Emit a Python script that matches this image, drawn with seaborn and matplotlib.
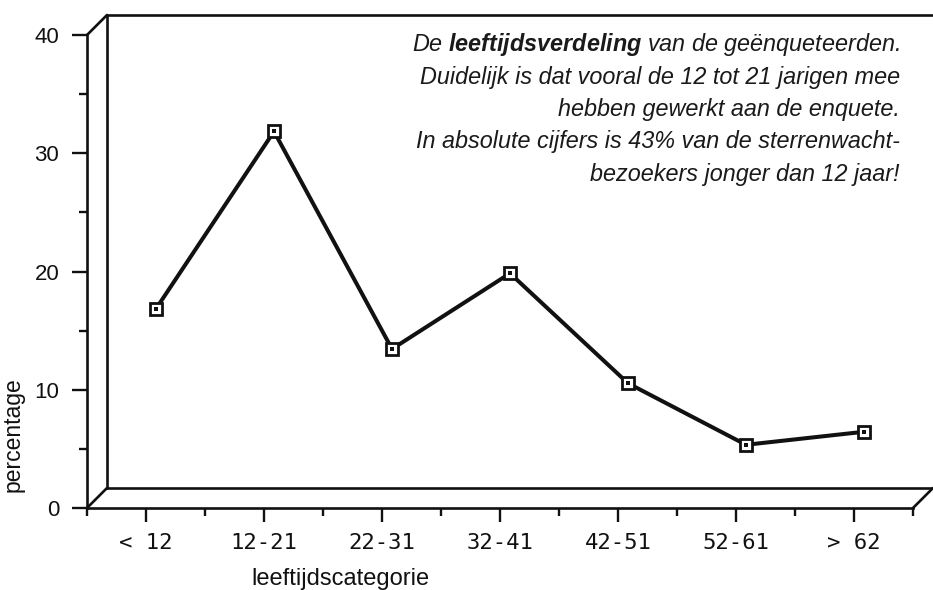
import matplotlib
matplotlib.use("Agg")
import matplotlib.pyplot as plt
import matplotlib.transforms as mtrans
from matplotlib.patches import ConnectionPatch
from matplotlib.lines import Line2D
from matplotlib.ticker import MultipleLocator, FixedLocator
import seaborn as sns
import pandas as pd

# ---- data ----
categories = ["< 12", "12-21", "22-31", "32-41", "42-51", "52-61", "> 62"]
percentages = [16, 31, 12.6, 19, 9.7, 4.5, 5.6]
y_ticks = [0, 10, 20, 30, 40]
note_lines = [
    r"De $\bf{leeftijdsverdeling}$ van de geënqueteerden.",
    "Duidelijk is dat vooral de 12 tot 21 jarigen mee",
    "hebben gewerkt aan de enquete.",
    "In absolute cijfers is 43% van de sterrenwacht-",
    "bezoekers jonger dan 12 jaar!",
]

sns.set_theme(style="white")
plt.rcParams["font.family"] = ["Liberation Sans", "DejaVu Sans"]
plt.rcParams["mathtext.fontset"] = "custom"
plt.rcParams["mathtext.bf"] = "Liberation Sans:italic:bold"
plt.rcParams["mathtext.rm"] = "Liberation Sans:italic"
plt.rcParams["mathtext.it"] = "Liberation Sans:italic"

df = pd.DataFrame({"cat": categories, "pct": percentages})

W, H = 933, 590
fig = plt.figure(figsize=(W / 100, H / 100), dpi=100)
fig.patch.set_facecolor("white")
ax = fig.add_axes([87 / W, (H - 508) / H, 826 / W, 473 / H])
ax.set_facecolor("none")

ink = "#111111"
sns.lineplot(data=df, x="cat", y="pct", ax=ax, color=ink, lw=2.9,
             marker="s", markersize=9, markerfacecolor="white",
             markeredgecolor=ink, markeredgewidth=2.0, sort=False)
sns.scatterplot(data=df, x="cat", y="pct", ax=ax, color=ink, marker="s",
                s=5, linewidth=0)

# data series sits at mid-depth of the 3D box
mid = mtrans.offset_copy(ax.transData, fig=fig, x=10, y=10, units="dots")
for ln in ax.lines:
    ln.set_transform(mid)
for coll in ax.collections:
    coll.set_offset_transform(mid)
    coll.set_zorder(5)

ax.set_xlim(-0.5, len(categories) - 0.5)
ax.set_ylim(0, 40)

# ---- 3D frame ----
back = mtrans.offset_copy(ax.transAxes, fig=fig, x=20, y=20, units="dots")
frame_kw = dict(color=ink, lw=1.9, clip_on=False, solid_capstyle="round")
ax.add_line(Line2D([0, 0, 1.05], [0, 1, 1], transform=back, **frame_kw))
ax.add_line(Line2D([0, 1], [0, 0], transform=back, **frame_kw))
for (xa, ya) in [(0, 0), (0, 1), (1, 0)]:
    cp = ConnectionPatch(xyA=(xa, ya), coordsA=ax.transAxes,
                         xyB=(xa, ya), coordsB=back, color=ink, lw=1.9)
    fig.add_artist(cp)

for side in ["top", "right"]:
    ax.spines[side].set_visible(False)
for side in ["left", "bottom"]:
    ax.spines[side].set_color(ink)
    ax.spines[side].set_linewidth(1.9)

# ---- ticks ----
ax.set_yticks(y_ticks)
ax.yaxis.set_minor_locator(MultipleLocator(5))
ax.xaxis.set_minor_locator(FixedLocator([i - 0.5 for i in range(len(categories) + 1)]))
ax.tick_params(axis="y", which="major", direction="out", length=11, width=1.7,
               color=ink, labelsize=16, pad=9, labelcolor=ink, left=True)
ax.tick_params(axis="y", which="minor", direction="out", length=6, width=1.7,
               color=ink, left=True)
ax.tick_params(axis="x", which="major", direction="out", length=10, width=1.7,
               color=ink, pad=8, labelcolor=ink, bottom=True)
ax.tick_params(axis="x", which="minor", direction="out", length=6, width=1.7,
               color=ink, bottom=True)
ax.set_xticks(range(len(categories)))
ax.set_xticklabels(categories, family="DejaVu Sans Mono", fontsize=16)

ax.set_xlabel("leeftijdscategorie", fontsize=17, color=ink)
ax.set_ylabel("percentage", fontsize=16.5, color=ink)
ax.xaxis.set_label_coords(0.307, -0.127)
ax.yaxis.set_label_coords(-0.075, 0.155)

# ---- note ----
y0 = (508 - 45) / 473
step = 32.3 / 473
for i, line in enumerate(note_lines):
    ax.text((900 - 87) / 826, y0 - i * step, line, transform=ax.transAxes,
            ha="right", va="center", fontsize=16.8, style="italic",
            color="#1a1a1a")

fig.savefig("out.png", dpi=100, facecolor="white")
